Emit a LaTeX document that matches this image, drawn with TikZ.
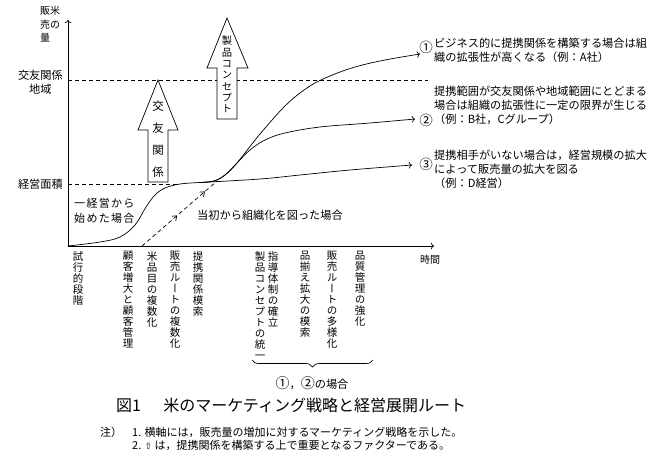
\documentclass[tikz,border=0pt]{standalone}
\usepackage{fontspec}
\setmainfont{Noto Sans CJK JP}
\newfontfamily\tatefont{Noto Sans CJK JP}[RawFeature=+vert]
\newfontfamily\symfont{DejaVu Sans}
\usetikzlibrary{positioning,arrows.meta,decorations.pathreplacing,decorations.markings}
\def\tateend{TATEEND}
\newcommand\tate[2][11pt]{\vbox{\baselineskip=#1\lineskiplimit=-\maxdimen\tatestep#2\tateend}}
\def\tatestep#1{\ifx\tateend#1\else\hbox to 1em{\hss#1\hss}\expandafter\tatestep\fi}
\newcommand\maru[1]{{\fontsize{14}{14}\selectfont #1}}

\begin{document}
\begin{tikzpicture}[x=1pt, y=-1pt, font=\fontsize{11.2}{13.8}\selectfont,
  tatecol/.style={anchor=north, inner sep=0pt, font=\tatefont\fontsize{10.5}{11}\selectfont},
  curve/.style={line width=0.7pt},
  guide/.style={dash pattern=on 4pt off 3pt, line width=0.7pt},
  blockarrow/.style={draw, fill=white, line width=0.7pt},
  numlab/.style={anchor=east, inner sep=0pt, font=\fontsize{13.5}{14}\selectfont},
  remark/.style={anchor=north west, align=left, inner sep=0pt}]
  \useasboundingbox (0,0) rectangle (672,464);
  \coordinate (origin) at (68,246);
  \coordinate (ytop) at (68,20);
  \coordinate (xend) at (434,246);
  \draw[->, line width=0.7pt] (origin) -- (ytop);
  \draw[->, line width=0.7pt] (origin) -- (xend);
  \node[anchor=north west, align=left, inner sep=0pt, font=\fontsize{10}{13.5}\selectfont] (ylab) at (40,6) {販米\\売の\\量};
  \node[anchor=west, inner sep=0pt, font=\fontsize{10}{12}\selectfont] (xlab) at (420,260) {時間};
  \node[anchor=east, align=center, inner sep=1pt] (friendlab) at (64,82) {交友関係\\地域};
  \node[anchor=east, inner sep=1pt] (arealab) at (64,184) {経営面積};
  \coordinate (friendL) at (68,80);
  \coordinate (friendR) at (428,80);
  \coordinate (areaL) at (68,184);
  \coordinate (areaR) at (180,184);
  \draw[guide] (friendL) -- (friendR);
  \draw[guide] (areaL) -- (areaR);

  \coordinate (J) at (200,182.5);
  \coordinate (orgS) at (142,246);
  \coordinate (orgE) at (217,181);
  \draw[curve] plot[smooth, tension=0.6] coordinates {(origin) (100,242) (120,237) (135,225) (146,207) (155,195) (165,188) (180,184) (J)};
  \draw[curve, ->] plot[smooth, tension=0.6] coordinates {(J) (260,179) (300,175) (350,170) (412,165)};
  \draw[curve, ->] plot[smooth, tension=0.6] coordinates {(J) (214,181) (225,175) (237,163) (250,150) (265,140) (285,133) (320,127) (370,123) (415,119)};
  \draw[curve, ->] plot[smooth, tension=0.6] coordinates {(J) (214,181) (225,175) (237,163) (260,134) (287,104) (310,86) (330,76) (355,67) (385,60) (420,54)};
  \draw[guide, postaction={decorate}, decoration={markings, mark=at position 0.47 with {\arrow{Straight Barb[length=4pt, width=6pt]}}, mark=at position 0.84 with {\arrow{Straight Barb[length=4pt, width=6pt]}}}] (orgS) -- (orgE);

  \draw[blockarrow] (148,182) -- (148,130) -- (138,130) -- (158,80) -- (178,130) -- (168,130) -- (168,182) -- cycle;
  \node[tatecol, font=\tatefont\fontsize{11.5}{12}\selectfont] (friendtxt) at (158,101) {\tate[22pt]{交友関係}};
  \draw[blockarrow] (217,119) -- (217,68) -- (207,68) -- (227,18) -- (248,68) -- (237,68) -- (237,119) -- cycle;
  \node[tatecol, font=\tatefont\fontsize{10.3}{11}\selectfont] (concepttxt) at (227,36) {\tate[11.3pt]{製品コンセプト}};

  \node[anchor=north west, align=left, inner sep=0pt, font={\fontsize{11}{15}\selectfont\addfontfeature{LetterSpace=12}}] (singlelab) at (74,198) {一経営から\\始めた場合};
  \node[inner sep=0pt] (orglab) at (270,215) {当初から組織化を図った場合};

  \node[numlab] (n1) at (433,47) {①};
  \node[remark] (txt1) at (434,38) {ビジネス的に提携関係を構築する場合は組\\織の拡張性が高くなる（例：A社）};
  \node[numlab] (n2) at (433,120) {②};
  \node[remark] (txt2) at (434,86) {提携範囲が交友関係や地域範囲にとどまる\\場合は組織の拡張性に一定の限界が生じる\\（例：B社，Cグループ）};
  \node[numlab] (n3) at (433,164) {③};
  \node[remark] (txt3) at (434,150) {提携相手がいない場合は，経営規模の拡大\\によって販売量の拡大を図る\\（例：D経営）};

  \node[tatecol] (c1) at (78,251) {\tate{試行的段階}};
  \node[tatecol] (c2) at (128,251) {\tate{顧客増大と顧客管理}};
  \node[tatecol] (c3) at (152,251) {\tate{米品目の複数化}};
  \node[tatecol] (c4) at (175,251) {\tate{販売ルートの複数化}};
  \node[tatecol] (c5) at (198,251) {\tate{提携関係模索}};
  \node[tatecol] (c6) at (260,251) {\tate{製品コンセプトの統一}};
  \node[tatecol] (c7) at (273,251) {\tate{指導体制の確立}};
  \node[tatecol] (c8) at (305,251) {\tate{品揃え拡大の模索}};
  \node[tatecol] (c9) at (332,251) {\tate{販売ルートの多様化}};
  \node[tatecol] (c10) at (360,251) {\tate{品質管理の強化}};
  \coordinate (braceL) at (252,360);
  \coordinate (braceR) at (373,360);
  \draw[line width=0.7pt, decorate, decoration={brace, mirror, amplitude=7pt}] (braceL) -- (braceR);
  \node[inner sep=0pt] (bracelab) at (312,383) {\maru{①}，\maru{②}の場合};

  \node[inner sep=0pt, font=\fontsize{16}{18}\selectfont] (caption) at (291,405) {図1\hspace{1.4em}米のマーケティング戦略と経営展開ルート};
  \node[anchor=north west, inner sep=0pt, font=\fontsize{11}{13}\selectfont] (notehead) at (100,427) {注）};
  \node[remark, font=\fontsize{11}{13}\selectfont] (notes) at (132,427) {1. 横軸には，販売量の増加に対するマーケティング戦略を示した。\\2. {\symfont\fontsize{9}{9}\selectfont ⇧} は，提携関係を構築する上で重要となるファクターである。};
\end{tikzpicture}
\end{document}
